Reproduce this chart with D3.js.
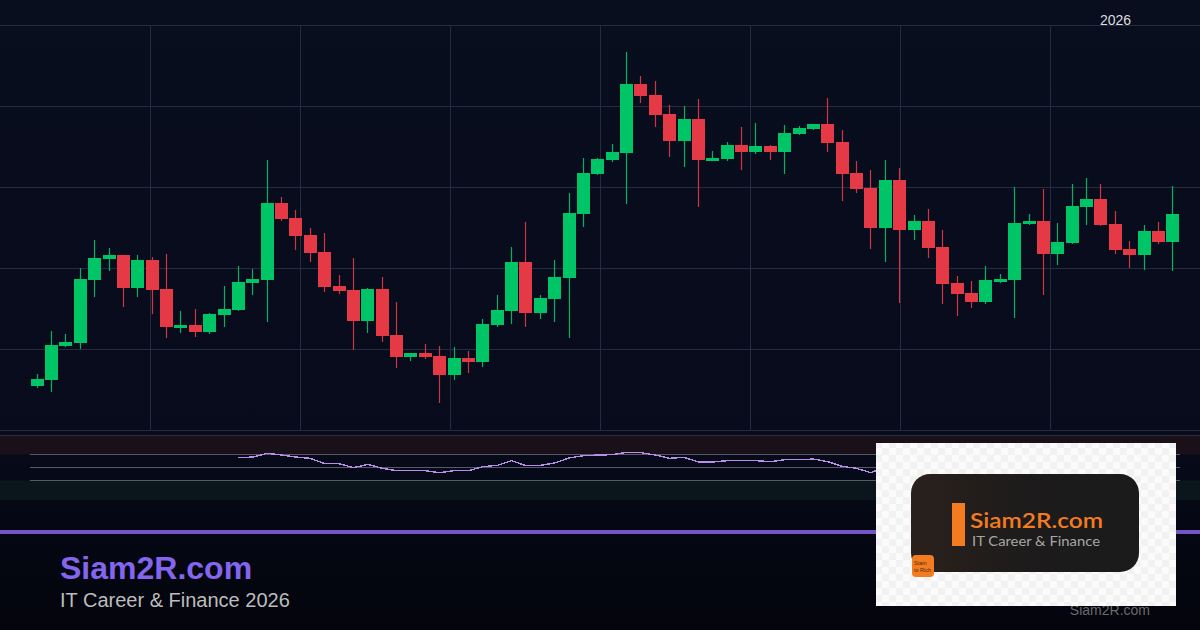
<!DOCTYPE html>
<html>
<head>
<meta charset="utf-8">
<script src="https://cdn.jsdelivr.net/npm/d3@7"></script>
<style>
html,body{margin:0;padding:0;background:#04060f;overflow:hidden}
svg{display:block}
text{font-family:"Liberation Sans",Arial,sans-serif}
</style>
</head>
<body>
<script>
var opens  = [44,50,84,87,150,171,175,142,170,141,102,105,98,115,120,147,150,227,212,195,178,144,140,109,141,95,73,77,74,55,72,68,105,119,168,117,131,152,216,256,270,277,346,335,316,289,311,269,271,285,278,284,278,296,301,306,288,257,242,202,250,200,209,183,147,137,128,148,150,206,209,176,187,223,231,206,181,175,199,188];
var closes = [51,85,88,151,172,175,142,170,140,103,105,98,116,121,148,151,227,211,194,177,143,139,109,141,94,73,77,73,55,72,68,106,120,168,117,132,153,217,257,271,278,346,334,315,289,311,270,272,285,278,284,278,297,302,306,287,256,241,202,250,200,209,182,146,136,128,150,151,207,209,176,188,224,231,205,180,175,199,188,216];
var highs  = [56,99,96,162,190,182,175,175,173,176,119,121,117,144,164,161,270,233,220,202,197,155,172,142,153,128,77,86,84,83,79,111,135,183,208,135,170,237,272,272,286,378,354,349,325,324,331,279,288,303,307,285,305,304,306,332,300,269,260,270,262,215,221,200,154,149,164,156,243,216,241,207,246,252,246,219,189,205,208,244];
var lows   = [42,38,83,81,133,159,123,133,116,92,97,93,96,103,119,135,108,209,180,168,138,136,80,97,88,62,69,71,27,50,57,63,103,106,103,111,108,92,203,255,268,226,327,303,273,263,223,269,269,260,276,270,256,295,300,278,229,237,181,168,127,190,172,126,114,122,126,147,112,205,135,165,186,205,204,176,162,160,186,159];
// rsi starts at candle 14, the part behind the logo can't be read
var rsiStart = 14;
var rsiValues = [65.1,66.1,71.8,69.2,66.1,64.1,55.9,55.9,49.7,54.9,48.7,45.1,45.1,45.1,42.0,45.1,45.1,51.3,53.3,60.5,52.8,53.3,56.9,64.6,68.2,69.2,69.7,73.3,72.8,69.2,64.1,65.6,58.5,58.5,60.5,60.5,60.5,59,62,62,63,59,51.8,48.7,42.0,51.3];
var priceTicks = [0,81,162,243,324,405];
var timeTicks = [1,2,3,4,5,6,7];
var rsiLevels = [30,50,70];
var yearLabel = "2026";

var width = 1200, height = 630;
var green = "#00c566", red = "#e63946";

var svg = d3.select("body").append("svg")
    .attr("width",width)
    .attr("height",height);

var defs = svg.append("defs");
var bg = defs.append("linearGradient").attr("id","bg").attr("x1",0).attr("y1",0).attr("x2",0).attr("y2",1);
bg.append("stop").attr("offset",0).attr("stop-color","#090e1f");
bg.append("stop").attr("offset",0.68).attr("stop-color","#070b1b");
bg.append("stop").attr("offset",1).attr("stop-color","#03040c");
svg.append("rect").attr("width",width).attr("height",height).attr("fill","url(#bg)");

var x = d3.scaleLinear().domain([0,opens.length-1]).range([37.2,1172.8]);
var y = d3.scaleLinear().domain([0,405]).range([430,25]);
var gridX = d3.scaleLinear().domain([0,8]).range([0,1200]);

//网格
var gridV = svg.append("g").attr("transform","translate(0,430)")
    .call(d3.axisBottom(gridX).tickValues(timeTicks).tickSize(-405).tickFormat(""));
var gridH = svg.append("g")
    .call(d3.axisLeft(y).tickValues(priceTicks).tickSize(-width).tickFormat(""));
svg.selectAll(".domain").remove();
gridV.selectAll("line").attr("stroke","#262b40");
gridH.selectAll("line").attr("stroke","#262b40");

svg.append("text").attr("x",1115.5).attr("y",25).attr("text-anchor","middle")
    .attr("font-size",14).attr("fill","#dddddd").text(yearLabel);

//蜡烛图
var candles = svg.append("g").selectAll("g").data(opens).enter().append("g");
candles.append("line")
    .attr("x1",function(d,i){return Math.floor(x(i))+0.5})
    .attr("x2",function(d,i){return Math.floor(x(i))+0.5})
    .attr("y1",function(d,i){return y(highs[i])})
    .attr("y2",function(d,i){return y(lows[i])})
    .attr("stroke",function(d,i){return closes[i]>=d?green:red})
    .attr("stroke-width",1.2)
    .attr("stroke-opacity",0.9);
candles.append("rect")
    .attr("shape-rendering","crispEdges")
    .attr("x",function(d,i){return Math.floor(x(i))-6})
    .attr("width",13)
    .attr("y",function(d,i){return y(Math.max(d,closes[i]))})
    .attr("height",function(d,i){return Math.max(1,Math.abs(y(d)-y(closes[i])))})
    .attr("fill",function(d,i){return closes[i]>=d?green:red});

//RSI
var rsiY = d3.scaleLinear().domain([0,100]).range([500,435]);
svg.append("rect").attr("x",0).attr("width",width).attr("y",rsiY(100)).attr("height",rsiY(70)-rsiY(100)).attr("fill","#1a1019");
svg.append("rect").attr("x",0).attr("width",width).attr("y",rsiY(30)).attr("height",rsiY(0)-rsiY(30)).attr("fill","#0a161c");
svg.append("line").attr("x1",0).attr("x2",width).attr("y1",435.5).attr("y2",435.5).attr("stroke","#2e2d3c");
svg.append("g").selectAll("line").data(rsiLevels).enter().append("line")
    .attr("x1",30).attr("x2",1180)
    .attr("y1",function(d){return Math.floor(rsiY(d))+0.5})
    .attr("y2",function(d){return Math.floor(rsiY(d))+0.5})
    .attr("stroke","#565a66");
var rsiLine = d3.line()
    .x(function(d,i){return x(i+rsiStart)})
    .y(function(d){return rsiY(d)});
svg.append("path").datum(rsiValues)
    .attr("d",rsiLine)
    .attr("fill","none")
    .attr("stroke","#b98ee8")
    .attr("stroke-width",1.4)
    .attr("shape-rendering","crispEdges");

//底部
svg.append("rect").attr("x",0).attr("y",530).attr("width",width).attr("height",4).attr("fill","#7356c4");
svg.append("text").attr("x",60).attr("y",579).attr("font-size",32).attr("font-weight","bold")
    .attr("fill","#8466ee").text("Siam2R.com");
svg.append("text").attr("x",60).attr("y",607).attr("font-size",20)
    .attr("fill","#bdbdbd").text("IT Career & Finance 2026");
svg.append("text").attr("x",1150).attr("y",615).attr("text-anchor","end").attr("font-size",14)
    .attr("fill","#6a6a6a").text("Siam2R.com");

//logo
var pat = defs.append("pattern").attr("id","checker").attr("patternUnits","userSpaceOnUse")
    .attr("width",14).attr("height",14);
pat.append("rect").attr("width",14).attr("height",14).attr("fill","#fbfbfb");
pat.append("rect").attr("width",7).attr("height",7).attr("fill","#f2f2f2");
pat.append("rect").attr("x",7).attr("y",7).attr("width",7).attr("height",7).attr("fill","#f2f2f2");
var dark = defs.append("linearGradient").attr("id","dark").attr("x1",0).attr("y1",0).attr("x2",1).attr("y2",0);
dark.append("stop").attr("offset",0).attr("stop-color","#2a211c");
dark.append("stop").attr("offset",0.5).attr("stop-color","#1d1b1b");
dark.append("stop").attr("offset",1).attr("stop-color","#1b1b1b");

var logo = svg.append("g");
logo.append("rect").attr("x",876).attr("y",443).attr("width",300).attr("height",163).attr("fill","url(#checker)");
logo.append("rect").attr("x",911).attr("y",474).attr("width",228).attr("height",98).attr("rx",19)
    .attr("fill","url(#dark)");
logo.append("rect").attr("x",952).attr("y",503).attr("width",13).attr("height",43).attr("fill","#f47c20");
logo.append("text").attr("x",970).attr("y",528).attr("font-size",21).attr("font-weight",600)
    .style("font-family","Lato").attr("textLength",133).attr("lengthAdjust","spacingAndGlyphs")
    .attr("fill","#f47c20").text("Siam2R.com");
logo.append("text").attr("x",972).attr("y",546).attr("font-size",13.5)
    .style("font-family","Lato").attr("textLength",128).attr("lengthAdjust","spacingAndGlyphs")
    .attr("fill","#a6a6a6").text("IT Career & Finance");
logo.append("rect").attr("x",912).attr("y",555).attr("width",22).attr("height",22).attr("rx",4).attr("fill","#f47c20");
logo.append("text").attr("x",914).attr("y",565).attr("font-size",5.5).attr("fill","#4a2a10").text("Siam");
logo.append("text").attr("x",914).attr("y",571.5).attr("font-size",5.5).attr("fill","#4a2a10").text("to Rich");
</script>
</body>
</html>
